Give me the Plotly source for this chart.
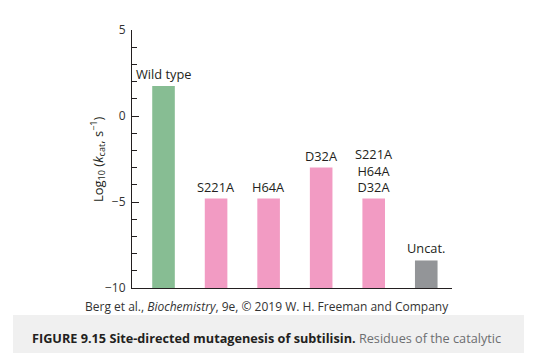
import plotly.graph_objects as go

categories = ["Wild type", "S221A", "H64A", "D32A", "S221A/H64A/D32A", "Uncat."]
bar_labels = ["Wild type", "S221A", "H64A", "D32A", "S221A<br>H64A<br>D32A", "Uncat."]
log_kcat = [1.75, -4.8, -4.8, -3.0, -4.8, -8.4]
bar_colors = ["#87bd93", "#f29bc3", "#f29bc3", "#f29bc3", "#f29bc3", "#939598"]
y_ticks = [-10, -5, 0, 5]
y_tick_text = ["\u221210", "\u22125", "0", "5"]
y_floor = -10

FONT = "Open Sans"
DARK = "#231f20"

fig = go.Figure()
fig.add_trace(go.Bar(
    x=categories, y=[v - y_floor for v in log_kcat], base=y_floor,
    marker=dict(color=bar_colors, line=dict(width=0)),
    hoverinfo="skip",
))

annotations = []
for c, lab, v in zip(categories, bar_labels, log_kcat):
    annotations.append(dict(
        x=c, y=v, xref="x", yref="y", text=lab, showarrow=False,
        yanchor="bottom", xanchor="center", yshift=1,
        font=dict(family=FONT, size=12.8, color=DARK),
    ))

annotations.append(dict(
    x=-0.109, y=0.5, xref="paper", yref="paper", textangle=-90,
    text="Log<sub>10</sub> (<i>k</i><sub>cat</sub>, s<sup>\u22121</sup>)",
    showarrow=False, xanchor="center", yanchor="middle",
    font=dict(family=FONT, size=13, color=DARK),
))
annotations.append(dict(
    x=0.422, y=-0.0736, xref="paper", yref="paper",
    text="Berg et al., <i>Biochemistry</i>, 9e, \u00a9 2019 W. H. Freeman and Company",
    showarrow=False, xanchor="center", yanchor="middle",
    font=dict(family=FONT, size=12, color="#333333"),
))
annotations.append(dict(
    x=-0.319, y=-0.194, xref="paper", yref="paper",
    text="<b>FIGURE 9.15 Site-directed mutagenesis of subtilisin.</b> "
         "<span style='color:#6d6e71'>Residues of the catalytic</span>",
    showarrow=False, xanchor="left", yanchor="middle",
    font=dict(family=FONT, size=12.7, color=DARK),
))

fig.update_layout(
    width=550, height=353,
    margin=dict(l=132, r=98, t=30, b=65),
    paper_bgcolor="white", plot_bgcolor="white",
    showlegend=False, bargap=0.57,
    annotations=annotations,
    shapes=[dict(
        type="rect", xref="paper", yref="paper",
        x0=-0.372, x1=1.225, y0=-0.26, y1=-0.1047,
        fillcolor="#f0f0f0", line=dict(width=0), layer="below",
    )],
)
fig.update_xaxes(
    range=[-0.6, 5.49], showticklabels=False, ticks="",
    showline=True, linecolor=DARK, linewidth=1, showgrid=False, zeroline=False,
)
fig.update_yaxes(
    range=[-10, 5], showline=True, linecolor=DARK, linewidth=1,
    showgrid=False, zeroline=False,
    tickmode="array", tickvals=y_ticks, ticktext=y_tick_text,
    ticks="inside", ticklen=7, tickcolor=DARK, tickwidth=1,
    minor=dict(ticks="inside", ticklen=5, dtick=1, tickcolor=DARK, tickwidth=1, showgrid=False),
    tickfont=dict(family=FONT, size=12, color="#333333"),
    ticklabelstandoff=3,
)

fig.write_html("out.html")
